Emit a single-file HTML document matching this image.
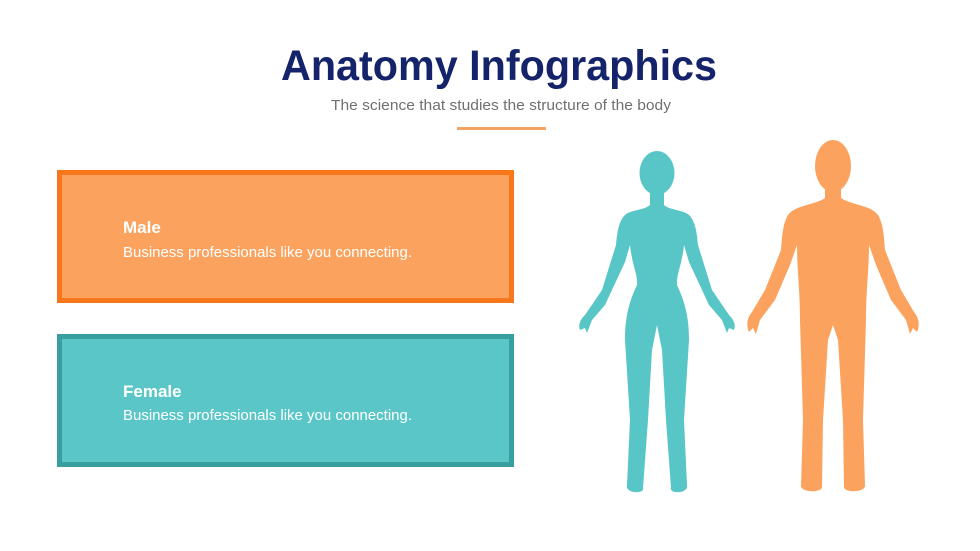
<!DOCTYPE html>
<html><head><meta charset="utf-8"><style>
html,body{margin:0;padding:0;background:#fff;}
svg{display:block;font-family:"Liberation Sans",sans-serif;}
</style></head><body>
<svg width="980" height="551" viewBox="0 0 980 551" xmlns="http://www.w3.org/2000/svg">
<rect width="980" height="551" fill="#fff"/>
<text x="499" y="80" text-anchor="middle" font-size="43" font-weight="bold" fill="#15246a" textLength="436" lengthAdjust="spacingAndGlyphs">Anatomy Infographics</text>
<text x="501" y="110" text-anchor="middle" font-size="15" fill="#707070" textLength="340" lengthAdjust="spacingAndGlyphs">The science that studies the structure of the body</text>
<rect x="457" y="127" width="89" height="3" fill="#f4a462"/>

<rect x="59.5" y="172.5" width="452" height="128" fill="#fba35e" stroke="#f8771a" stroke-width="5"/>
<text x="123" y="233" font-size="17" font-weight="bold" fill="#fff">Male</text>
<text x="123" y="257" font-size="14.5" fill="#fff" textLength="289" lengthAdjust="spacingAndGlyphs">Business professionals like you connecting.</text>

<rect x="59.5" y="336.5" width="452" height="128" fill="#5bc6c7" stroke="#389f9e" stroke-width="5"/>
<text x="123" y="397" font-size="17" font-weight="bold" fill="#fff">Female</text>
<text x="123" y="420" font-size="14.5" fill="#fff" textLength="289" lengthAdjust="spacingAndGlyphs">Business professionals like you connecting.</text>

<g fill="#58c5c7">
<ellipse cx="657" cy="173" rx="17.5" ry="22"/>
<path d="M650,192 L650,205 C645,210 630,210 625,215 C618,222 617,235 616,245 L602,290 L585,315 C580,320 578,325 580,330 L585,328 L587,333 L592,320 L605,305 L625,262 L630,245 C632,265 638,275 637,285 C630,300 625,315 625,340 L630,420 L627,485 C625,494 645,494 643,488 L648,420 L652,350 L657,325 L662,350 L666,420 L671,488 C669,494 689,494 687,485 L684,420 L689,340 C689,315 684,300 677,285 C676,275 682,265 684,245 L689,262 L709,305 L722,320 L727,333 L729,328 L734,330 C736,325 734,320 729,315 L712,290 L698,245 C697,235 696,222 689,215 C684,210 669,210 664,205 L664,192 Z"/>
</g>
<g fill="#fba35e">
<ellipse cx="833" cy="166" rx="18" ry="26"/>
<path d="M825,185 L825,198 C815,205 795,205 788,215 C782,225 782,240 781,250 L765,290 L752,312 C747,318 746,325 749,332 L753,328 L756,334 L760,320 L775,300 L790,265 L797,245 C797,270 800,290 800,320 L803,420 L801,485 C800,493 822,493 822,487 L823,420 L828,340 L833,325 L838,340 L843,420 L844,487 C844,493 866,493 865,485 L863,420 L866,320 C866,290 869,270 869,245 L876,265 L891,300 L906,320 L910,334 L913,328 L917,332 C920,325 919,318 914,312 L901,290 L885,250 C884,240 884,225 878,215 C871,205 851,205 841,198 L841,185 Z"/>
</g>
</svg>
</body></html>
